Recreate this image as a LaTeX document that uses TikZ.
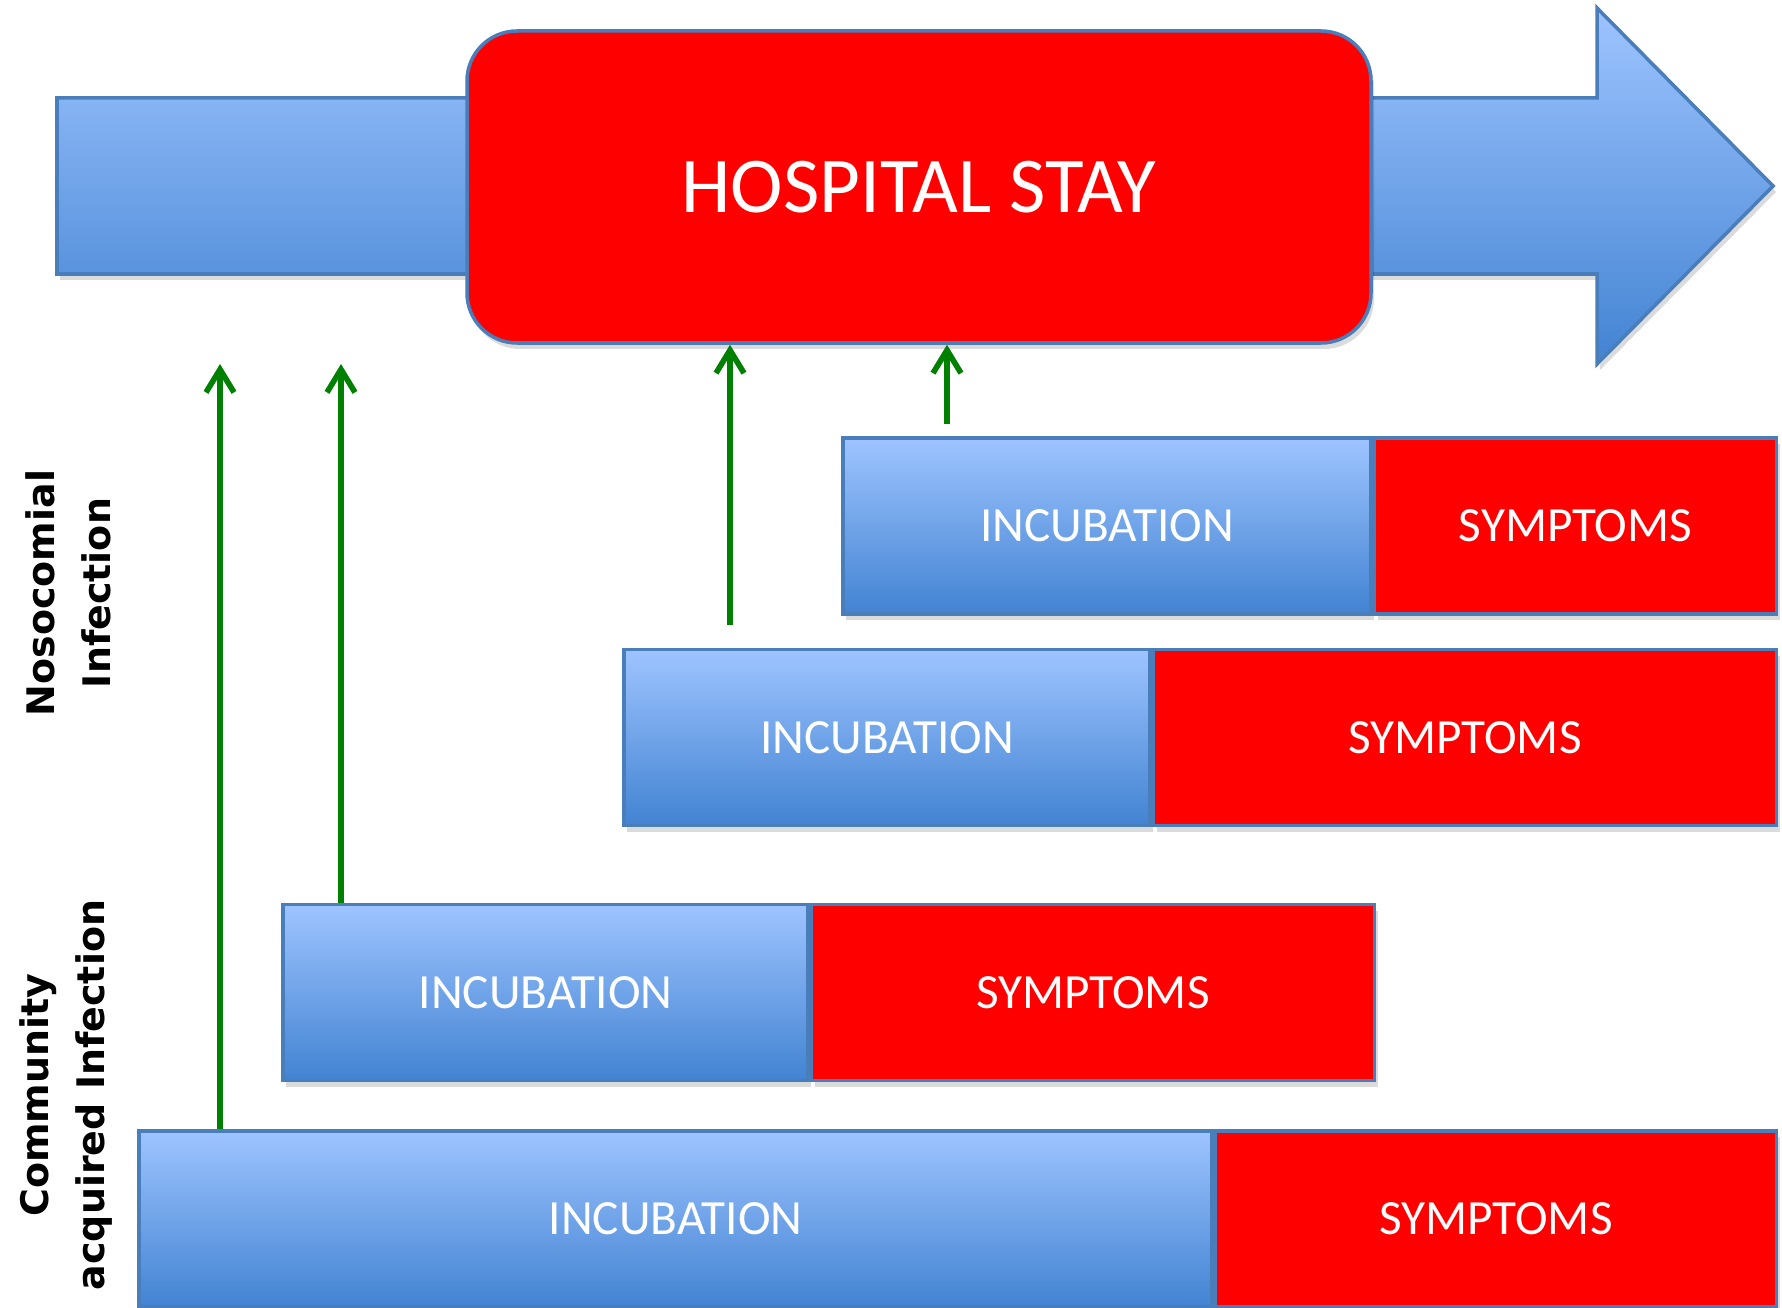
\documentclass[tikz,border=0pt]{standalone}
\usepackage{fontspec}
\usepackage{xcolor}
\usepackage{tikz}
\usetikzlibrary{arrows.meta,positioning,shadows}

\newfontfamily\boxfont{Carlito}
\newfontfamily\sidefont{DejaVu Sans}

\definecolor{incTop}{RGB}{158,196,255}
\definecolor{incBot}{RGB}{66,131,210}
\definecolor{edgeBlue}{RGB}{74,126,187}
\definecolor{symRed}{RGB}{255,0,0}
\definecolor{infGreen}{RGB}{0,128,0}

\tikzset{
  softshadow/.style={drop shadow={shadow xshift=0.3mm,shadow yshift=-0.6mm,fill=black,opacity=0.14}},
  incbox/.style={draw=edgeBlue,line width=1pt,top color=incTop,bottom color=incBot,
    minimum height=1.76cm,inner sep=0pt,text=white,
    font=\boxfont\fontsize{14}{16}\selectfont,softshadow},
  symbox/.style={draw=edgeBlue,line width=1pt,fill=symRed,
    minimum height=1.76cm,inner sep=0pt,text=white,
    font=\boxfont\fontsize{14}{16}\selectfont,softshadow},
  infarrow/.style={-{Straight Barb[length=2.3mm,width=2.8mm]},line width=1.6pt,infGreen},
  sidelabel/.style={rotate=90,align=center,font=\sidefont\bfseries\fontsize{10.8}{15.9}\selectfont}
}

\begin{document}
\begin{tikzpicture}

\useasboundingbox (0,0) rectangle (17.82,13.07);

% Timeline arrow
\path[draw=edgeBlue,line width=1pt,top color=incTop,bottom color=incBot,softshadow]
  (0.57,10.33) -- (0.57,12.09) -- (15.97,12.09) -- (15.97,12.99)
  -- (17.73,11.21) -- (15.97,9.43) -- (15.97,10.33) -- cycle;

% Hospital stay
\node[draw=edgeBlue,line width=1pt,fill=symRed,rounded corners=0.5cm,
  minimum width=9.04cm,minimum height=3.12cm,text=white,softshadow,
  font=\boxfont\fontsize{22.5}{26}\selectfont] (stay) at (9.19,11.20) {HOSPITAL STAY};

% Row 1: nosocomial, late
\node[incbox,minimum width=5.28cm] (inc1) at (11.07,7.81) {INCUBATION};
\node[symbox,minimum width=4.02cm,right=0pt of inc1] (sym1) {SYMPTOMS};

% Row 2: nosocomial, early
\node[incbox,minimum width=5.26cm] (inc2) at (8.87,5.695) {INCUBATION};
\node[symbox,minimum width=6.23cm,right=0pt of inc2] (sym2) {SYMPTOMS};

% Row 3: community, short
\node[incbox,minimum width=5.25cm] (inc3) at (5.455,3.145) {INCUBATION};
\node[symbox,minimum width=5.63cm,right=0pt of inc3] (sym3) {SYMPTOMS};

% Row 4: community, long
\node[incbox,minimum width=10.73cm] (inc4) at (6.755,0.88) {INCUBATION};
\node[symbox,minimum width=5.61cm,right=0pt of inc4] (sym4) {SYMPTOMS};

% Infection moments
\coordinate (ca1) at (2.20,9.43);
\coordinate (ca2) at (3.41,9.43);
\coordinate (ca3) at (7.30,6.82);
\coordinate (ca4) at (9.47,8.83);
\draw[infarrow] (inc4.north -| ca1) -- (ca1);
\draw[infarrow] (inc3.north -| ca2) -- (ca2);
\draw[infarrow] (ca3) -- (ca3 |- stay.south);
\draw[infarrow] (ca4) -- (ca4 |- stay.south);

% Side labels
\node[sidelabel] (noso) at (0.68,7.14) {Nosocomial\\Infection};
\node[sidelabel] (comm) at (0.66,2.12) {Community\\acquired Infection};

\end{tikzpicture}
\end{document}
